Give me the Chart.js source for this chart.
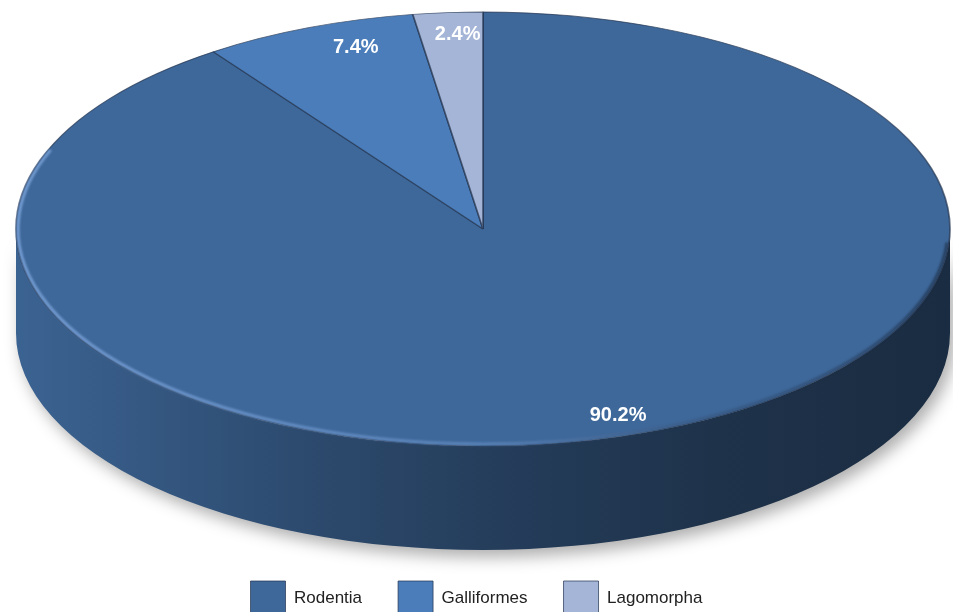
<!DOCTYPE html>
<html>
<head>
<meta charset="utf-8">
<script src="https://cdn.jsdelivr.net/npm/chart.js@4.4.1/dist/chart.umd.min.js"></script>
<style>
  html, body { margin: 0; padding: 0; background: #fff; }
  #wrap { width: 953px; height: 612px; position: relative; }
</style>
</head>
<body>
<div id="wrap"><canvas id="pie"></canvas></div>
<script>
const categories = ['Rodentia', 'Galliformes', 'Lagomorpha'];
const shares = [90.2, 7.4, 2.4];
const sliceColors = ['#3e689a', '#4a7dba', '#a4b5d8'];

// geometry of the tilted disc (top face ellipse + rim depth)
const CX = 483, CY = 229, RX = 467, RY = 217, DEPTH = 104;

function shade(hex, f) {
    const n = parseInt(hex.slice(1), 16);
    const r = Math.round(((n >> 16) & 255) * f);
    const g = Math.round(((n >> 8) & 255) * f);
    const b = Math.round((n & 255) * f);
    return `rgb(${r},${g},${b})`;
}

function drawSide(ctx, a, b, color) {
    const grad = ctx.createLinearGradient(CX - RX, 0, CX + RX, 0);
    grad.addColorStop(0, shade(color, 0.95));
    grad.addColorStop(0.3, shade(color, 0.72));
    grad.addColorStop(0.5, shade(color, 0.6));
    grad.addColorStop(0.75, shade(color, 0.48));
    grad.addColorStop(1, shade(color, 0.42));
    ctx.save();
    ctx.shadowColor = 'rgba(0,0,0,0.32)';
    ctx.shadowBlur = 16;
    ctx.shadowOffsetX = 5;
    ctx.shadowOffsetY = 7;
    ctx.beginPath();
    ctx.ellipse(CX, CY, RX, RY, 0, a, b);
    ctx.ellipse(CX, CY + DEPTH, RX, RY, 0, b, a, true);
    ctx.closePath();
    ctx.fillStyle = grad;
    ctx.fill();
    ctx.restore();
}

const pie3d = {
    id: 'pie3d',
    beforeDatasetsDraw(chart) {
        const ctx = chart.ctx;
        const meta = chart.getDatasetMeta(0);
        const { x, y, outerRadius } = meta.data[0].getProps(['x', 'y', 'outerRadius'], true);
        // rim: only the front half (canvas angles 0..PI) is visible
        meta.data.forEach((el, i) => {
            const { startAngle, endAngle } = el.getProps(['startAngle', 'endAngle'], true);
            for (let k = -1; k <= 1; k++) {
                const a = Math.max(startAngle, 2 * Math.PI * k);
                const b = Math.min(endAngle, Math.PI + 2 * Math.PI * k);
                if (a < b) drawSide(ctx, a, b, sliceColors[i]);
            }
        });
        // squash the flat pie into the top face ellipse
        ctx.save();
        ctx.translate(CX, CY);
        ctx.scale(RX / outerRadius, RY / outerRadius);
        ctx.translate(-x, -y);
    },
    afterDatasetsDraw(chart) {
        const ctx = chart.ctx;
        ctx.restore();

        // soft bevel along the front edge of the top face
        ctx.save();
        const rim = ctx.createLinearGradient(CX - RX, 0, CX + RX, 0);
        rim.addColorStop(0, 'rgba(125,165,220,0.9)');
        rim.addColorStop(0.5, 'rgba(105,145,200,0.65)');
        rim.addColorStop(0.8, 'rgba(40,60,90,0.4)');
        rim.addColorStop(1, 'rgba(20,32,50,0.6)');
        ctx.filter = 'blur(1px)';
        ctx.strokeStyle = rim;
        ctx.lineWidth = 3;
        ctx.beginPath();
        ctx.ellipse(CX, CY, RX - 2, RY - 2, 0, 0.02 * Math.PI, 1.12 * Math.PI);
        ctx.stroke();
        ctx.restore();

        // percentage labels; the far side of the disc reads narrower
        const meta = chart.getDatasetMeta(0);
        ctx.save();
        ctx.font = 'bold 20px "Liberation Sans", Arial, sans-serif';
        ctx.fillStyle = '#ffffff';
        ctx.textAlign = 'center';
        ctx.textBaseline = 'middle';
        meta.data.forEach((el, i) => {
            const { startAngle, endAngle } = el.getProps(['startAngle', 'endAngle'], true);
            const mid = (startAngle + endAngle) / 2;
            const fx = 0.84 + 0.12 * Math.sin(mid);
            const lx = CX + Math.cos(mid) * RX * fx;
            const ly = CY + Math.sin(mid) * RY * 0.9;
            ctx.fillText(shares[i].toFixed(1) + '%', lx, ly);
        });
        ctx.restore();
    }
};

new Chart(document.getElementById('pie'), {
    type: 'pie',
    data: {
        labels: categories,
        datasets: [{
            data: shares,
            backgroundColor: sliceColors,
            borderColor: 'rgba(35,52,80,0.7)',
            borderWidth: 1
        }]
    },
    options: {
        responsive: true,
        maintainAspectRatio: false,
        animation: false,
        layout: { padding: { bottom: -13 } },
        plugins: {
            tooltip: { enabled: false },
            legend: {
                position: 'bottom',
                labels: {
                    boxWidth: 35,
                    boxHeight: 34,
                    padding: 36,
                    color: '#222',
                    font: { family: '"Liberation Sans", Arial, sans-serif', size: 17 }
                }
            }
        }
    },
    plugins: [pie3d]
});
</script>
</body>
</html>
